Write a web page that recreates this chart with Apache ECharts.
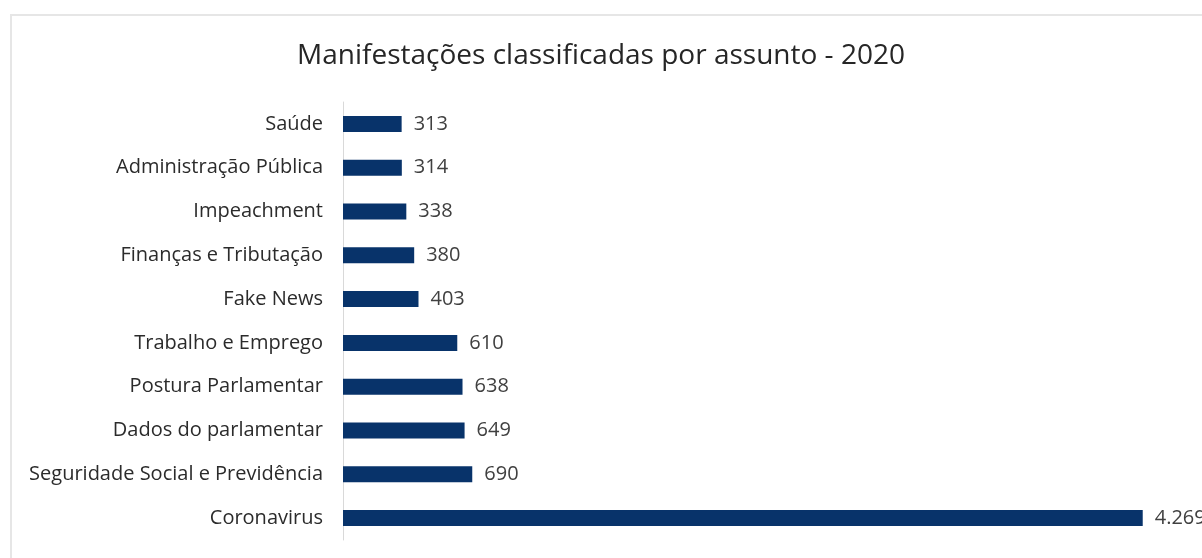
<!DOCTYPE html>
<html>
<head>
<meta charset="utf-8">
<script src="https://cdn.jsdelivr.net/npm/echarts@6/dist/echarts.min.js"></script>
<style>
  html, body { margin: 0; padding: 0; background: #fff; overflow: hidden; }
  #frame { position: absolute; left: 10px; top: 14px; width: 1400px; height: 700px; border: 2px solid #e6e6e6; box-sizing: border-box; }
  #chart { position: absolute; left: 0; top: 0; width: 1202px; height: 558px; }
</style>
</head>
<body>
<div id="frame"></div>
<div id="chart"></div>
<script>
// assuntos e quantidades
const assuntos = ['Saúde', 'Administração Pública', 'Impeachment', 'Finanças e Tributação', 'Fake News',
  'Trabalho e Emprego', 'Postura Parlamentar', 'Dados do parlamentar', 'Seguridade Social e Previdência', 'Coronavirus'];
const quantidades = [313, 314, 338, 380, 403, 610, 638, 649, 690, 4269];

const fonte = 'Open Sans, Noto Sans, sans-serif';
let chart = echarts.init(document.getElementById('chart'));
chart.setOption({
  backgroundColor: 'transparent',
  animation: false,
  title: {
    text: 'Manifestações classificadas por assunto - 2020',
    left: 'center',
    top: 37,
    textStyle: { fontFamily: fonte, fontSize: 28, fontWeight: 'normal', color: '#262626' }
  },
  grid: { left: 343, right: 16, top: 102, bottom: 18 },
  xAxis: {
    type: 'value',
    min: 0,
    max: 4500,
    show: false
  },
  yAxis: {
    type: 'category',
    data: assuntos,
    inverse: true,
    axisLine: { lineStyle: { color: '#d9d9d9', width: 1 } },
    axisTick: { show: false },
    axisLabel: { fontFamily: fonte, fontSize: 20, color: '#2b2b2b', margin: 20 }
  },
  series: [{
    type: 'bar',
    data: quantidades,
    barWidth: 16,
    itemStyle: { color: '#08336a' },
    label: {
      show: true,
      position: 'right',
      distance: 12,
      fontFamily: fonte,
      fontSize: 20,
      color: '#404040',
      formatter: p => p.value.toLocaleString('de-DE')
    }
  }]
});
//响应式
window.addEventListener('resize', () => { chart.resize(); });
</script>
</body>
</html>
